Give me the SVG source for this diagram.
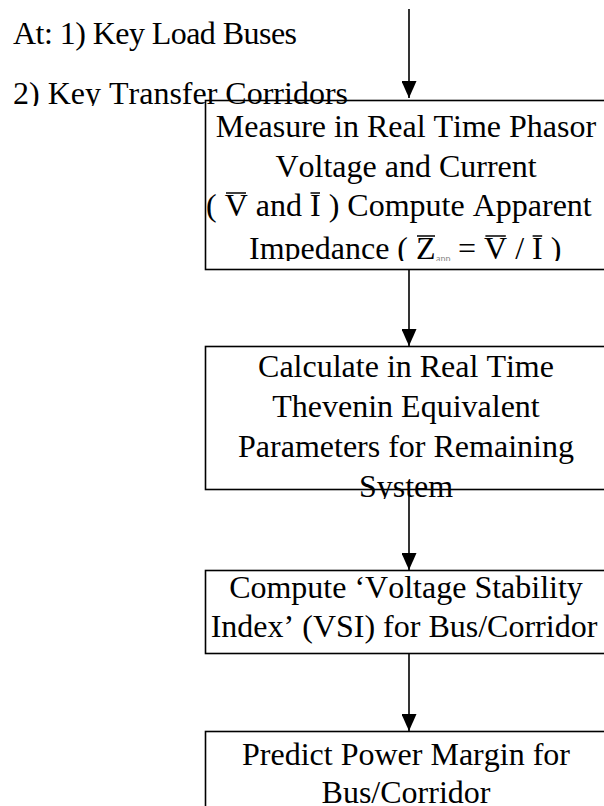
<svg xmlns="http://www.w3.org/2000/svg" width="604" height="806" viewBox="0 0 604 806">
  <style>
    .box { fill: #ffffff; stroke: #000000; stroke-width: 1.6; }
    .lbl { font-family: "Liberation Serif", "Times New Roman", serif; font-size: 32px; fill: #000000; font-kerning: none; }
    .mid { text-anchor: middle; }
    .sub { font-size: 10px; fill: #888888; }
    .bar { stroke: #000000; stroke-width: 1.5; }
    .link { stroke: #000000; stroke-width: 1.6; fill: none; marker-end: url(#head); }
  </style>
  <defs>
    <marker id="head" markerWidth="17" markerHeight="15" refX="17" refY="7.5" orient="auto" markerUnits="userSpaceOnUse" viewBox="0 0 17 15">
      <path d="M0,0 L17,7.5 L0,15 Z" fill="#000000"/>
    </marker>
    <clipPath id="clipTop"><rect x="0" y="0" width="604" height="106"/></clipPath>
    <clipPath id="clipMeasure"><rect x="205" y="100" width="400" height="161"/></clipPath>
    <clipPath id="clipThevenin"><rect x="205" y="346" width="400" height="153"/></clipPath>
  </defs>
  <rect width="604" height="806" fill="#ffffff"/>

  <!-- flow boxes (right edges run past the canvas) -->
  <g id="measure">
    <rect class="box" x="205.5" y="100.5" width="410" height="169"/>
  </g>
  <g id="thevenin">
    <rect class="box" x="205.5" y="346.5" width="410" height="143"/>
    <g clip-path="url(#clipThevenin)">
      <text class="lbl mid" x="406" y="377">Calculate in Real Time</text>
      <text class="lbl mid" x="406" y="417">Thevenin Equivalent</text>
      <text class="lbl mid" x="406" y="457">Parameters for Remaining</text>
      <text class="lbl mid" x="406" y="497">System</text>
    </g>
  </g>
  <g id="vsi">
    <rect class="box" x="205.5" y="570.5" width="410" height="83"/>
    <text class="lbl mid" x="406" y="598">Compute ‘Voltage Stability</text>
    <text class="lbl mid" x="404" y="637">Index’ (VSI) for Bus/Corridor</text>
  </g>
  <g id="margin">
    <rect class="box" x="205.5" y="731.5" width="410" height="100"/>
    <text class="lbl mid" x="406" y="765">Predict Power Margin for</text>
    <text class="lbl mid" x="406" y="803">Bus/Corridor</text>
  </g>

  <!-- measurement locations -->
  <g id="locations" clip-path="url(#clipTop)">
    <text class="lbl" x="13" y="44" textLength="284" lengthAdjust="spacing">At: 1) Key Load Buses</text>
    <text class="lbl" x="13" y="104">2) Key Transfer Corridors</text>
  </g>

  <!-- text of the first box, clipped at its lower edge; phasor bars drawn as rules -->
  <g id="measure-text" clip-path="url(#clipMeasure)">
    <text class="lbl mid" x="406" y="137">Measure in Real Time Phasor</text>
    <text class="lbl mid" x="406" y="177">Voltage and Current</text>
    <text class="lbl" y="216"><tspan x="206">( </tspan><tspan x="224.7">V</tspan><tspan x="247.8"> and </tspan><tspan x="310">I</tspan><tspan x="320.7"> ) Compute Apparent</tspan></text>
    <line class="bar" x1="226" y1="193" x2="246" y2="193"/>
    <line class="bar" x1="310.5" y1="193" x2="320" y2="193"/>
    <text class="lbl" y="259"><tspan x="249">Impedance ( </tspan><tspan x="416.1">Z</tspan><tspan class="sub" x="436" dy="3">app</tspan><tspan x="450.1" dy="-3"> = </tspan><tspan x="484.1">V</tspan><tspan x="507.2"> / </tspan><tspan x="532.1">I</tspan><tspan x="542.8"> )</tspan></text>
    <line class="bar" x1="417" y1="236" x2="435" y2="236"/>
    <line class="bar" x1="485.4" y1="236" x2="505.8" y2="236"/>
    <line class="bar" x1="532.6" y1="236" x2="542.2" y2="236"/>
  </g>

  <!-- connectors -->
  <g id="connectors">
    <line class="link" x1="409" y1="9" x2="409" y2="98"/>
    <line class="link" x1="409" y1="270" x2="409" y2="346"/>
    <line class="link" x1="409" y1="490" x2="409" y2="570"/>
    <line class="link" x1="409" y1="654" x2="409" y2="731"/>
  </g>
</svg>
